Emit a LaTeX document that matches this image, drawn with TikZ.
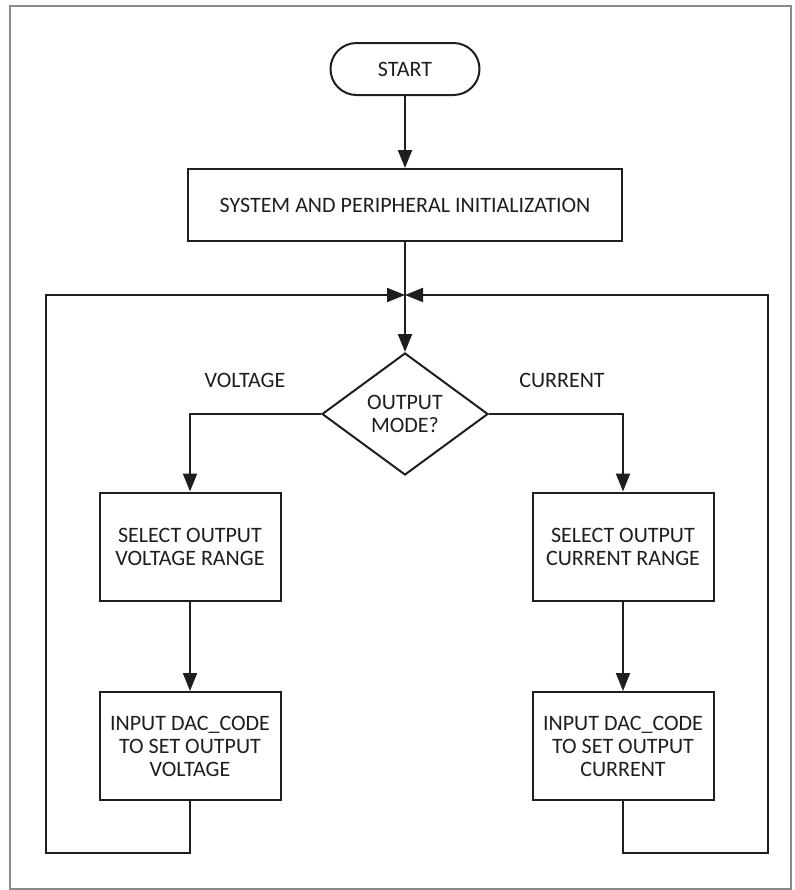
\documentclass[tikz,border=0pt]{standalone}
\usepackage{fontspec}
\setmainfont{Carlito}
\usetikzlibrary{arrows.meta,shapes.geometric}
\definecolor{ink}{HTML}{1E1E1E}
\definecolor{framegray}{HTML}{8A8A8A}
\begin{document}
\begin{tikzpicture}[x=0.5pt,y=-0.5pt,
  txt/.style={font=\fontsize{11}{11.5}\selectfont, text=ink, align=center},
  box/.style={txt, draw=ink, line width=1pt, inner sep=0pt},
  arr/.style={draw=ink, line width=1pt, -{Triangle[length=9pt,width=7pt]}},
  ln/.style={draw=ink, line width=1pt}]
\useasboundingbox (0,0) rectangle (794,890);
\draw[framegray, line width=1pt] (9.5,6) rectangle (791,888.5);

\node[box, rounded corners=13pt, minimum width=74.5pt, minimum height=26pt] (start) at (405,69) {START};
\node[box, minimum width=217pt, minimum height=36pt] (init) at (405,205) {SYSTEM AND PERIPHERAL INITIALIZATION};
\node[box, shape=diamond, minimum width=83pt, minimum height=61pt] (mode) at (405,414) {OUTPUT\\MODE?};
\node[box, minimum width=90.5pt, minimum height=54pt] (v1) at (190,546.5) {SELECT OUTPUT\\VOLTAGE RANGE};
\node[box, minimum width=90.5pt, minimum height=54pt] (v2) at (190,746) {INPUT DAC\_CODE\\TO SET OUTPUT\\VOLTAGE};
\node[box, minimum width=90.5pt, minimum height=54pt] (c1) at (623,546.5) {SELECT OUTPUT\\CURRENT RANGE};
\node[box, minimum width=90.5pt, minimum height=54pt] (c2) at (623,746) {INPUT DAC\_CODE\\TO SET OUTPUT\\CURRENT};
\node[txt] (vl) at (245,380) {VOLTAGE};
\node[txt] (cl) at (562,380) {CURRENT};

\coordinate (J) at (405,295);
\coordinate (lb) at (46,853);
\coordinate (lt) at (46,295);
\coordinate (rb) at (768,853);
\coordinate (rt) at (768,295);

\draw[arr] (start) -- (init);
\draw[arr] (init) -- (mode);
\draw[arr] (mode.west) -| (v1.north);
\draw[arr] (mode.east) -| (c1.north);
\draw[arr] (v1) -- (v2);
\draw[arr] (c1) -- (c2);
\draw[arr] (v2.south) -- (v2.south |- lb) -- (lb) -- (lt) -- (J);
\draw[arr] (c2.south) -- (c2.south |- rb) -- (rb) -- (rt) -- (J);
\end{tikzpicture}
\end{document}
